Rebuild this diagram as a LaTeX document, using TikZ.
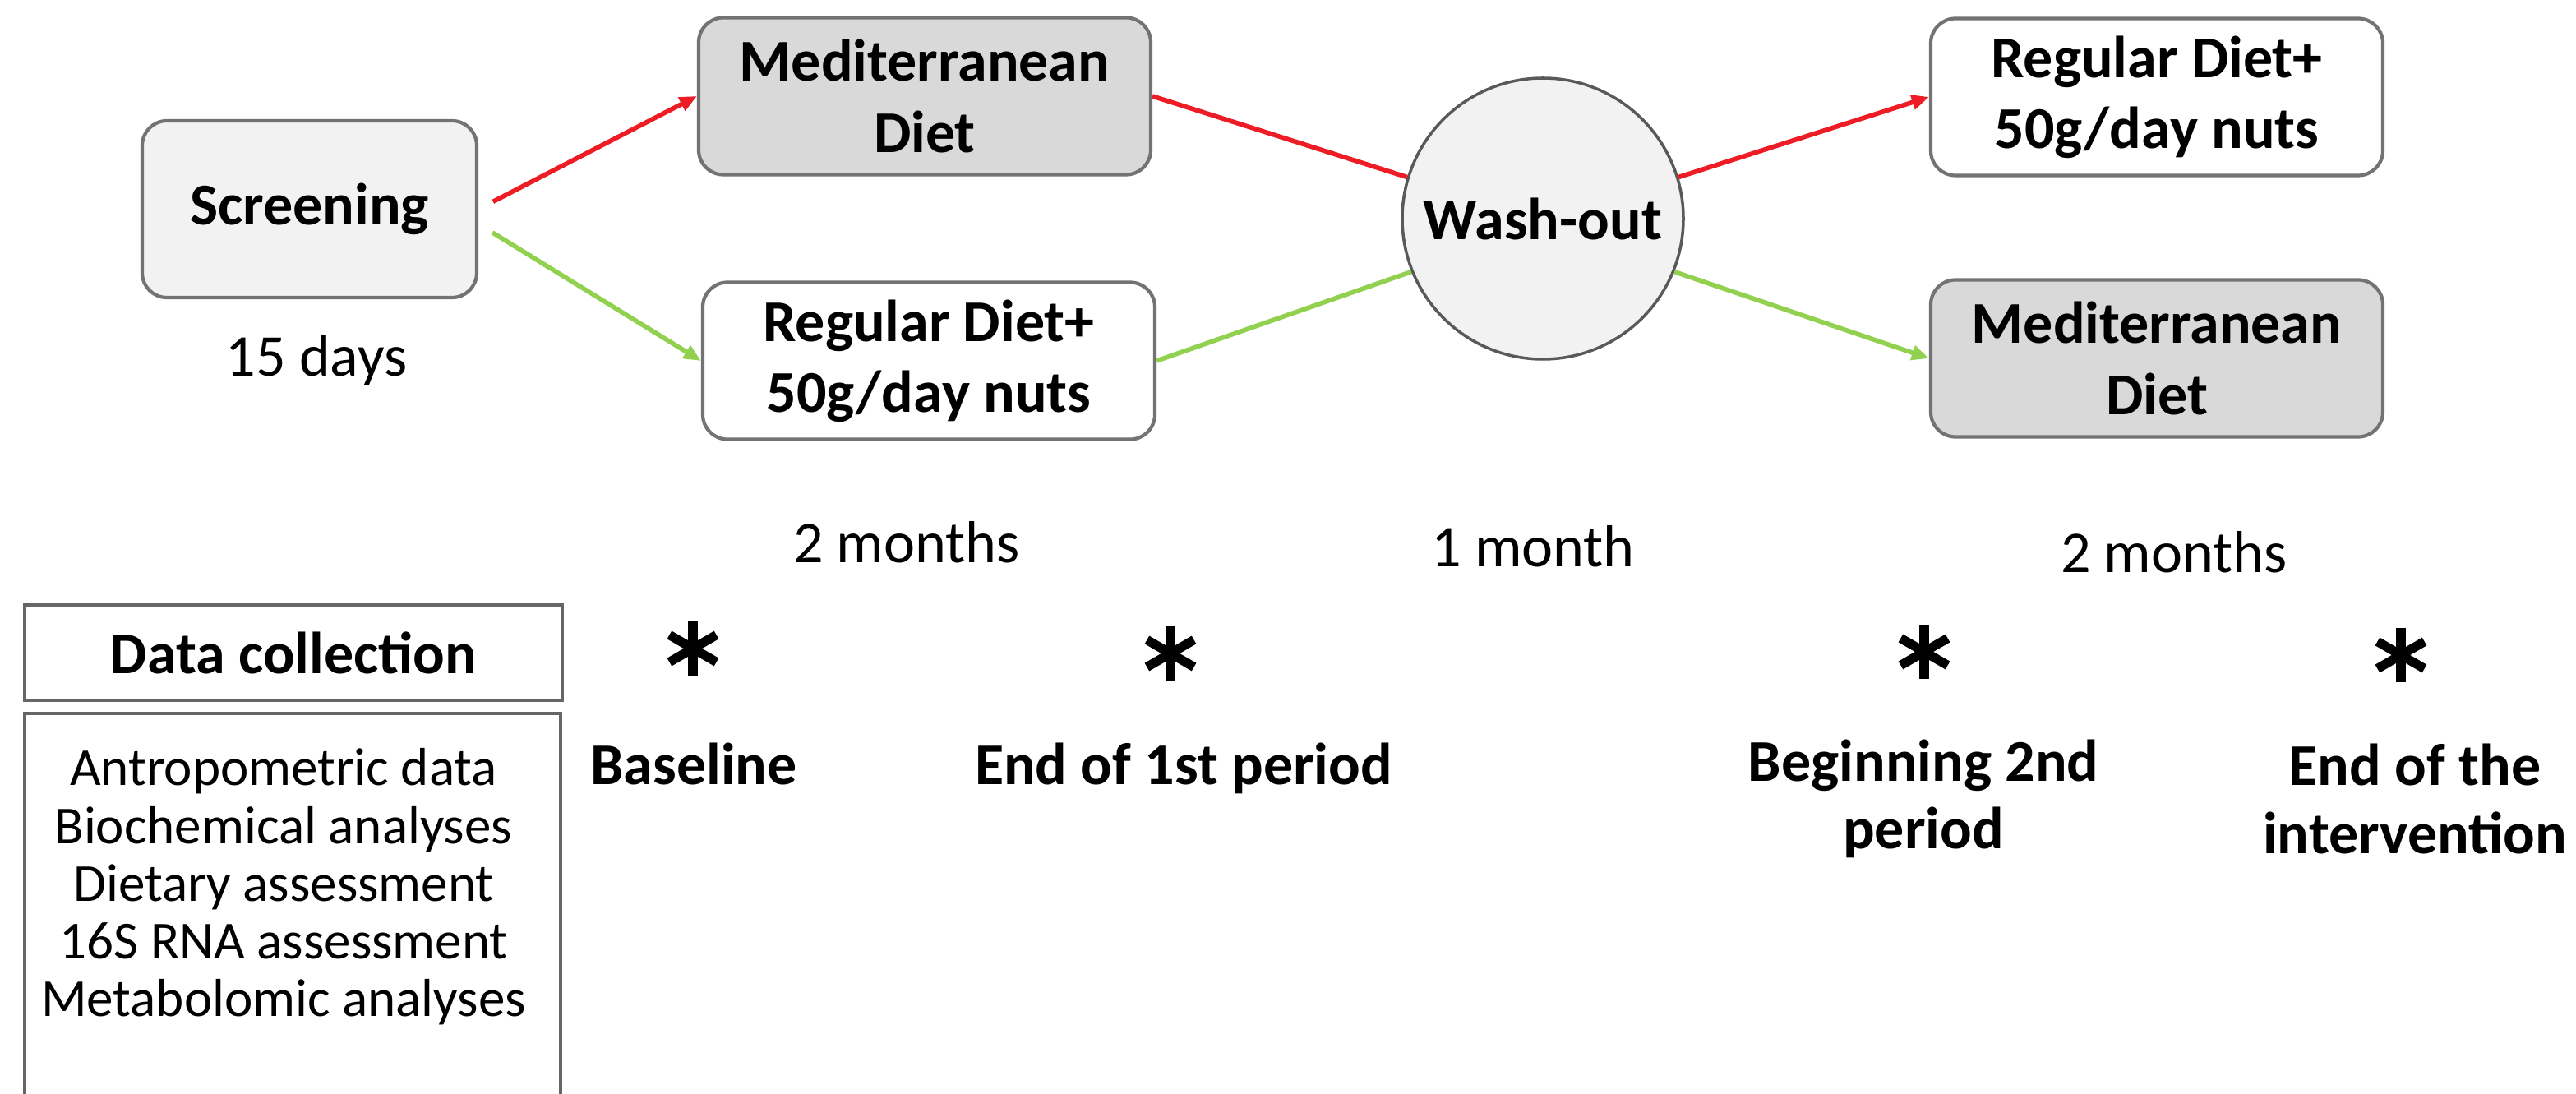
\documentclass[tikz,border=0pt]{standalone}
\usepackage{fontspec}
\setmainfont{Carlito}
\usetikzlibrary{arrows.meta}
\definecolor{armred}{HTML}{EE1C25}
\definecolor{armgreen}{HTML}{92D050}

\begin{document}
\begin{tikzpicture}[
    dietbox/.style={draw=black!55, line width=1.2pt, rounded corners=0.3cm, minimum width=5.5cm, minimum height=1.91cm, align=center, font=\bfseries\fontsize{20.5}{24.5}\selectfont},
    medbox/.style={dietbox, fill=black!15},
    regbox/.style={dietbox, fill=white},
    note/.style={font=\fontsize{20.5}{24}\selectfont, anchor=base},
    when/.style={font=\bfseries\fontsize{20.5}{23.5}\selectfont, align=center, inner sep=1pt},
    starline/.style={line width=3.2pt},
    redline/.style={draw=armred, line width=1.6pt},
    greenline/.style={draw=armgreen, line width=1.6pt},
    headed/.style={-{Triangle[length=6pt,width=5pt]}}
  ]
  \clip (0,0) rectangle (31.34,13.30);
  % top row: arms of the study
  \node[dietbox, fill=black!5, minimum width=4.07cm, minimum height=2.15cm] (screen) at (3.765,10.755) {Screening};
  \node[note] (days) at (3.85,8.72) {15 days};
  \node[medbox] (med1) at (11.25,12.13) {Mediterranean\\Diet};
  \node[regbox] (reg1) at (11.30,8.91) {Regular Diet+\\50g/day nuts};
  \node[circle, draw=black!65, line width=1pt, fill=black!5, minimum size=3.42cm, font=\bfseries\fontsize{20.5}{24}\selectfont] (wash) at (18.77,10.64) {Wash-out};
  \node[regbox] (reg2) at (26.24,12.12) {Regular Diet+\\50g/day nuts};
  \node[medbox] (med2) at (26.24,8.94) {Mediterranean\\Diet};
  % durations
  \node[note] (per1) at (11.03,6.45) {2 months};
  \node[note] (washtime) at (18.65,6.40) {1 month};
  \node[note] (per2) at (26.45,6.33) {2 months};
  % data collection
  \node[draw=black!60, line width=1.2pt, minimum width=6.54cm, minimum height=1.16cm, font=\bfseries\fontsize{20.5}{24}\selectfont] (collect) at (3.57,5.36) {Data collection};
  \node[draw=black!60, line width=1.2pt, minimum width=6.52cm, minimum height=5cm, anchor=north] (itembox) at (3.56,4.64) {};
  \node[align=center, font=\fontsize{18.5}{20}\selectfont] (items) at (3.45,2.51) {Antropometric data\\Biochemical analyses\\Dietary assessment\\16S RNA assessment\\Metabolomic analyses};
  % collection time points
  \foreach \x/\y/\n in {8.43/5.41/s1, 14.24/5.35/s2, 23.41/5.37/s3, 29.21/5.33/s4}{
    \coordinate (\n) at (\x,\y);
    \foreach \a in {90,30,150}
      \draw[starline] ([shift={(\a:0.33)}]\n) -- ([shift={(\a+180:0.33)}]\n);
  }
  \node[when, anchor=base] (baseline) at (8.44,3.75) {Baseline};
  \node[when, anchor=base] (endfirst) at (14.40,3.75) {End of 1st period};
  \node[when] (begin2) at (23.40,3.58) {Beginning 2nd\\period};
  \node[when] (endall) at (29.38,3.58) {End of the\\intervention};
  % connectors
  \draw[redline, headed, shorten <=0.2cm] (screen.east) -- (med1.west);
  \draw[greenline, headed, shorten <=0.2cm] (screen.-5) -- (reg1.west);
  \draw[redline] (med1.east) -- (wash.163);
  \draw[greenline] (reg1.east) -- (wash.-158);
  \draw[redline, headed] (wash.17) -- (reg2.west);
  \draw[greenline, headed] (wash.-22) -- (med2.west);
\end{tikzpicture}
\end{document}
